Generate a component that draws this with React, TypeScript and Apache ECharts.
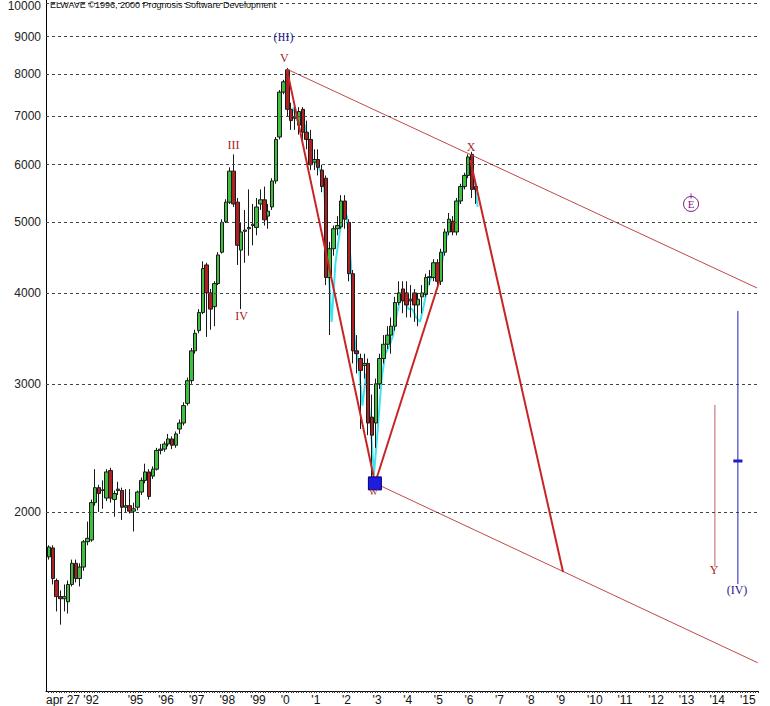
import React, { useEffect, useRef } from "react";
import * as echarts from "echarts";

// time of first candle (decimal year) and spacing between candles (years)
const T0 = 1992.43;
const STEP = 0.1256;

// candles: [open, close, low, high]
const ohlc: number[][] = [
  [1735, 1790, 1720, 1800], [1785, 1620, 1590, 1800], [1610, 1530, 1460, 1620], [1530, 1520, 1400, 1560],
  [1520, 1530, 1460, 1590], [1505, 1590, 1450, 1610], [1590, 1700, 1580, 1720], [1700, 1620, 1600, 1720],
  [1620, 1680, 1580, 1700], [1680, 1820, 1660, 1830], [1820, 1840, 1800, 1940], [1830, 2060, 1820, 2080],
  [2060, 2160, 2040, 2290], [2160, 2120, 2000, 2180], [2140, 2145, 2020, 2210], [2090, 2270, 2070, 2290],
  [2280, 2090, 2060, 2300], [2080, 2120, 1970, 2140], [2140, 2150, 2110, 2200], [2140, 2030, 1950, 2160],
  [2030, 2040, 2000, 2150], [2040, 2005, 1990, 2150], [2005, 2020, 1880, 2060], [2030, 2130, 2010, 2140],
  [2130, 2210, 2110, 2230], [2210, 2270, 2190, 2330], [2270, 2100, 2080, 2290], [2240, 2290, 2220, 2310],
  [2290, 2430, 2280, 2450], [2430, 2440, 2400, 2480], [2440, 2480, 2420, 2500], [2480, 2520, 2460, 2560],
  [2520, 2470, 2440, 2540], [2470, 2560, 2450, 2580], [2600, 2650, 2560, 2680], [2650, 2800, 2630, 2830],
  [2820, 3030, 2800, 3060], [3030, 3330, 3000, 3360], [3330, 3520, 3300, 3560], [3550, 3760, 3520, 3800],
  [3760, 4320, 3740, 4420], [4370, 4000, 3480, 4400], [4000, 3800, 3560, 4050], [3830, 4120, 3600, 4150],
  [4120, 4510, 4100, 4550], [4550, 5000, 4530, 5050], [5010, 5330, 4990, 5380], [5330, 5880, 5300, 5950],
  [5880, 5300, 5250, 6200], [5330, 4650, 4370, 5400], [4580, 4850, 3800, 5000], [4860, 4880, 4400, 5200],
  [4900, 4920, 4500, 5550], [4950, 4970, 4650, 5300], [4920, 5250, 4800, 5400], [5300, 5370, 5200, 5550],
  [5370, 5040, 4950, 5600], [5100, 5180, 4900, 5300], [5250, 5700, 5200, 5750], [5700, 6500, 5650, 6550],
  [6550, 7550, 6500, 7600], [7550, 7800, 7500, 7850], [8100, 7150, 7000, 8150], [7150, 6900, 6700, 7300],
  [6950, 6980, 6700, 7200], [6800, 7100, 6600, 7200], [7150, 6650, 6400, 7200], [6650, 6500, 6300, 6900],
  [6500, 6000, 5900, 6700], [6050, 6100, 5900, 6300], [6100, 5950, 5800, 6300], [5900, 5600, 5500, 6000],
  [5750, 4200, 4100, 5800], [4200, 4600, 3500, 4700], [4600, 4900, 4500, 4950], [4900, 4950, 4800, 5100],
  [4930, 5350, 4900, 5450], [5350, 5050, 4900, 5450], [5000, 4250, 4150, 5050], [4250, 3330, 3200, 4300],
  [3330, 3300, 3100, 3500], [3250, 3130, 2600, 3300], [3180, 3200, 3050, 3300], [3200, 2650, 2550, 3250],
  [2700, 2550, 2200, 2900], [2650, 3000, 2450, 3050], [3000, 3250, 2950, 3300], [3250, 3400, 3200, 3500],
  [3400, 3500, 3350, 3600], [3500, 3600, 3300, 3700], [3600, 3880, 3550, 3950], [3880, 4000, 3850, 4150],
  [4050, 3900, 3750, 4150], [4000, 3850, 3700, 4150], [3900, 3920, 3700, 4100], [4000, 3850, 3650, 4050],
  [3850, 3920, 3600, 4000], [3950, 4000, 3750, 4100], [3980, 4200, 3950, 4250], [4200, 4210, 4100, 4300],
  [4200, 4400, 4150, 4450], [4400, 4150, 4100, 4450], [4150, 4550, 4100, 4600], [4550, 4850, 4500, 4900],
  [4850, 5050, 4800, 5150], [5020, 4850, 4800, 5100], [4850, 5350, 4800, 5400], [5350, 5600, 5300, 5650],
  [5600, 5800, 5550, 5850], [5800, 6150, 5750, 6200], [6200, 5550, 5400, 6250], [5600, 5550, 5300, 5650],
];

// cyan trace, starting half a candle after candle index CYAN_START
const CYAN_START = 63;
const cyanValues = [
  7200, 6900, 6950, 6800, 6500, 6100, 6000, 5900, 5650, 4500, 3650, 4400, 4800, 5150, 5100, 4400,
  3450, 3200, 2800, 3100, 2700, 2250, 2600, 3050, 3300, 3380, 3500, 3750, 3950, 3900, 3800, 3800,
  3700, 3650, 3850, 4100, 4200, 4350, 4200, 4500, 4800, 5000, 4950, 5300, 5550, 5800, 6050, 5700, 5250,
];

const yGridValues = [2000, 3000, 4000, 5000, 6000, 7000, 8000, 9000, 10000];
const xLabelValues = [1992.3333, 1995, 1996, 1997, 1998, 1999, 2000, 2001, 2002, 2003, 2004, 2005, 2006, 2007, 2008, 2009, 2010, 2011, 2012, 2013, 2014, 2015];
const X_MIN = 1992.3333;
const X_MAX = 2015.587;
const Y_MIN = 1135;
const Y_MAX = 10105;

// channel and wave lines: [year, price]
const upperChannel = [[2000.2, 8120], [2015.553, 4063]];
const lowerChannel = [[2003.08, 2190], [2015.58, 1241]];
const waveVtoW = [[2000.2, 8120], [2003.08, 2190]];
const waveWup = [[2003.08, 2190], [2005.18, 4150]];
const waveXdown = [[2006.19, 6092], [2009.22, 1654]];
const targetY = [[2014.18, 2806], [2014.18, 1681]];
const targetIV = [[2014.93, 3778], [2014.93, 1592]];
const targetIVmid = [[2014.78, 2350], [2015.08, 2350]];
const eTick = [[2013.4, 5480], [2013.4, 5390]];
const wPoint = [2003.075, 2189];
const ePoint = [2013.4, 5300];

const redLabels = [
  { name: "V", value: [2000.12, 8413] },
  { name: "III", value: [1998.46, 6388] },
  { name: "IV", value: [1998.72, 3718] },
  { name: "X", value: [2006.22, 6349] },
  { name: "Y", value: [2014.15, 1664] },
];
const blueLabels = [
  { name: "(III)", value: [2000.09, 9000] },
  { name: "(IV)", value: [2014.9, 1563] },
];
const wLabel = [{ name: "W", value: [2003.03, 2131] }];

const monthTicks: number[] = [];
for (let k = 0; k < 290; k++) {
  const v = 1992 + (5 + k) / 12;
  if (v <= X_MAX) monthTicks.push(v);
}

const SANS = "'Liberation Sans', Arial, sans-serif";
const SERIF = "'Liberation Serif', 'Times New Roman', serif";

function lineSeries(data: number[][], color: string, width: number, z = 4) {
  return {
    type: "line",
    data,
    symbol: "none",
    silent: true,
    z,
    lineStyle: { color, width },
    itemStyle: { color },
  };
}

function labelSeries(data: any[], color: string, size: number) {
  return {
    type: "scatter",
    data,
    symbolSize: 1,
    silent: true,
    z: 6,
    itemStyle: { color: "rgba(0,0,0,0)", opacity: 1 },
    label: {
      show: true,
      position: "inside",
      formatter: "{b}",
      color,
      opacity: 1,
      fontSize: size,
      fontFamily: SERIF,
    },
  };
}

export default function App() {
  const ref = useRef<HTMLDivElement>(null);
  useEffect(() => {
    if (!ref.current) return;
    const chart = echarts.init(ref.current, undefined, { renderer: "svg" });
    const candleData = ohlc.map((c, i) => [T0 + i * STEP, c[0], c[1], c[2], c[3]]);
    const cyanData = cyanValues.map((v, k) => [T0 + (CYAN_START + k + 0.5) * STEP, v]);
    chart.setOption({
      animation: false,
      backgroundColor: "#ffffff",
      grid: { left: 46, right: 12, top: 0, bottom: 15, containLabel: false },
      xAxis: {
        type: "value",
        min: X_MIN,
        max: X_MAX,
        axisLine: { show: true, lineStyle: { color: "#000", width: 1 } },
        axisTick: { show: true, customValues: monthTicks, length: 2, lineStyle: { color: "#333" } },
        axisLabel: {
          show: true,
          customValues: xLabelValues,
          align: "left",
          margin: 3,
          fontSize: 12,
          color: "#111",
          fontFamily: SANS,
          formatter: (v: number) => {
            if (v < 1993) return "apr 27 '92";
            const y = Math.round(v);
            return y >= 2000 ? "'" + (y - 2000) : "'" + (y - 1900);
          },
        },
        splitLine: { show: false },
      },
      yAxis: {
        type: "log",
        logBase: 10,
        min: Y_MIN,
        max: Y_MAX,
        axisLine: { show: true, lineStyle: { color: "#000", width: 1 } },
        axisTick: { show: false },
        axisLabel: { show: false },
        splitLine: { show: false },
      },
      graphic: [
        {
          type: "text",
          left: 50,
          top: 0,
          silent: true,
          z: 10,
          style: {
            text: "ELWAVE ©1996, 2000 Prognosis Software Development",
            font: "9px " + SANS,
            fill: "#111",
          },
        },
      ],
      series: [
        {
          type: "line",
          data: [],
          silent: true,
          z: 1,
          markLine: {
            silent: true,
            symbol: ["none", "none"],
            lineStyle: { type: [3, 3], color: "#444", width: 1 },
            label: {
              show: true,
              position: "start",
              distance: 5,
              formatter: (p: any) => String(p.value),
              fontSize: 12,
              color: "#222",
              fontFamily: SANS,
            },
            data: yGridValues.map((v) =>
              v === 10000
                ? { yAxis: v, label: { offset: [0, 3] } }
                : { yAxis: v }
            ),
          },
        },
        {
          type: "line",
          data: cyanData,
          symbol: "none",
          silent: true,
          z: 2,
          lineStyle: { color: "#3fe3f0", width: 2 },
        },
        {
          type: "candlestick",
          data: candleData,
          encode: { x: 0, y: [1, 2, 3, 4] },
          barWidth: 4,
          silent: true,
          z: 3,
          itemStyle: {
            color: "#3fbf3f",
            color0: "#b02020",
            borderColor: "#1a1a1a",
            borderColor0: "#1a1a1a",
            borderWidth: 1,
          },
        },
        lineSeries(upperChannel, "#c04848", 1),
        lineSeries(lowerChannel, "#c04848", 1),
        lineSeries(waveVtoW, "#c82424", 2),
        lineSeries(waveWup, "#c82424", 2),
        lineSeries(waveXdown, "#c82424", 2),
        lineSeries(targetY, "#c06060", 1),
        lineSeries(targetIV, "#2020c0", 1),
        lineSeries(targetIVmid, "#2020c0", 3),
        lineSeries(eTick, "#8a2a9a", 1),
        {
          type: "scatter",
          data: [wPoint],
          symbol: "rect",
          symbolSize: 13,
          silent: true,
          z: 6,
          itemStyle: { color: "#1d1ddb", borderColor: "#000080", borderWidth: 1, opacity: 1 },
        },
        {
          type: "scatter",
          data: [{ name: "E", value: ePoint }],
          symbol: "circle",
          symbolSize: 15,
          silent: true,
          z: 6,
          itemStyle: { color: "rgba(255,255,255,0)", borderColor: "#7a1a8a", borderWidth: 1, opacity: 1 },
          label: {
            show: true,
            position: "inside",
            formatter: "{b}",
            color: "#7a1a8a",
            fontSize: 11,
            fontFamily: SERIF,
          },
        },
        labelSeries(redLabels, "#a81c1c", 12),
        labelSeries(blueLabels, "#18188c", 12),
        labelSeries(wLabel, "#a81c1c", 9),
      ],
    });
    return () => chart.dispose();
  }, []);
  return (
    <div
      ref={ref}
      style={{ position: "fixed", left: 0, top: 0, width: 770, height: 706, background: "#fff" }}
    />
  );
}
